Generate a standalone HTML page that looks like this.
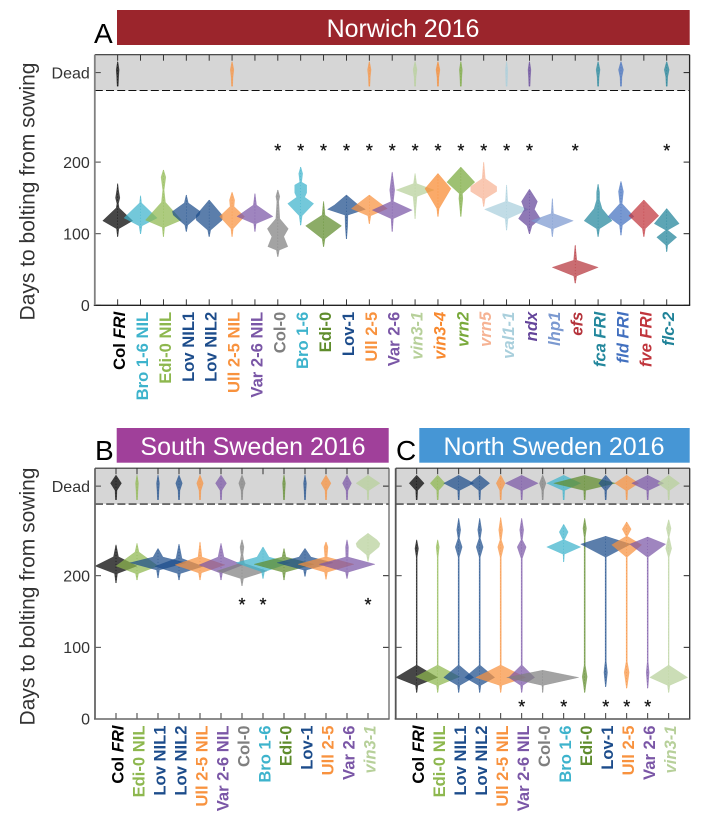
<!DOCTYPE html>
<html lang="en">
<head>
<meta charset="utf-8">
<title>Days to bolting from sowing</title>
<style>
html,body{margin:0;padding:0;background:#fff;width:708px;height:816px;overflow:hidden}
svg{display:block;font-family:"Liberation Sans",sans-serif}
</style>
</head>
<body>
<svg id="chart" width="708" height="816" viewBox="0 0 708 816" xmlns="http://www.w3.org/2000/svg">
  <rect x="117" y="10" width="572.7" height="35" fill="#9b252c"/>
  <text x="403" y="37" font-size="25" fill="#fff" text-anchor="middle">Norwich 2016</text>
  <rect x="116.7" y="428" width="272" height="34.7" fill="#a0409a"/>
  <text x="253" y="455" font-size="25" fill="#fff" text-anchor="middle">South Sweden 2016</text>
  <rect x="419.3" y="428" width="270.4" height="34.7" fill="#4696d5"/>
  <text x="554" y="455" font-size="25" fill="#fff" text-anchor="middle">North Sweden 2016</text>
  <text x="94" y="43" font-size="28">A</text>
  <text x="95" y="460" font-size="28">B</text>
  <text x="396" y="460" font-size="28">C</text>
  <text transform="translate(34.5 191.5) rotate(-90)" font-size="21" fill="#333" text-anchor="middle">Days to bolting from sowing</text>
  <text transform="translate(34.5 596.5) rotate(-90)" font-size="21" fill="#333" text-anchor="middle">Days to bolting from sowing</text>
</svg>
<script>
const categoriesA = ['Col FRI','Bro 1-6 NIL','Edi-0 NIL','Lov NIL1','Lov NIL2','Ull 2-5 NIL','Var 2-6 NIL','Col-0','Bro 1-6','Edi-0','Lov-1','Ull 2-5','Var 2-6','vin3-1','vin3-4','vrn2','vrn5','val1-1','ndx','lhp1','efs','fca FRI','fld FRI','fve FRI','flc-2'];
const deadDensityA = [1.5,0,0,0,0,1.8,0,0,0,0,0,1.8,0,2,2,1.5,0,1.2,1.5,0,0,2,2.5,0,2.5];
const significantA = ['Col-0','Bro 1-6','Edi-0','Lov-1','Ull 2-5','Var 2-6','vin3-1','vin3-4','vrn2','vrn5','val1-1','ndx','efs','flc-2'];
const profilesA = [
  [[96,.3],[107,1.2],[118,15],[136,1.5],[142,.8],[150,2.2],[162,.8],[170,.2]],
  [[100,.3],[111,1.5],[122,16.6],[143,1],[153,.2]],
  [[96,.3],[109,1.2],[119,18],[144,2],[161,.7],[179,2.4],[189,.2]],
  [[103,.3],[112,1.5],[126,13],[131,14],[143,2],[154,.2]],
  [[96,.3],[105,1.5],[119,13],[126,13],[147,.2]],
  [[96,.3],[107,1.2],[124,12.5],[138,2],[147,2.6],[158,.2]],
  [[103,.3],[114,1.2],[124,18],[140,1.6],[156,.2]],
  [[68,.3],[77,1.5],[82,10],[96,6],[107,10.5],[121,2],[145,1],[152,2],[161,.2]],
  [[112,.3],[125,1.5],[142,13],[151,4],[157,6],[168,6],[172,1],[184,2],[193,.2]],
  [[82,.3],[93,1.5],[111,18],[126,1.5],[145,.2]],
  [[93,.3],[110,1.2],[126,1.5],[134,19],[140,12],[154,.2]],
  [[114,.3],[125,1.5],[135,18],[154,.2]],
  [[103,.3],[121,1.2],[133,20],[145,1.2],[161,2.5],[186,.2]],
  [[121,.3],[133,.8],[152,2],[161,19],[170,1.6],[184,.2]],
  [[124,.3],[135,1.2],[163,13],[184,.2]],
  [[124,.3],[138,1.2],[149,2],[156,1.6],[172,14],[193,.2]],
  [[138,.3],[149,1.5],[159,13],[166,13],[177,1.6],[200,.2]],
  [[105,.3],[121,1.5],[134,22],[145,1.2],[168,.2]],
  [[100,.3],[111,2.5],[121,11],[134,5],[145,8],[162,.2]],
  [[96,.3],[107,1.2],[118,21],[128,1.2],[149,.2]],
  [[31,.3],[41,1.5],[53,23],[63,1.6],[84,.2]],
  [[96,.3],[107,1.5],[118,14],[135,4],[147,1.5],[158,1.5],[169,.2]],
  [[98,.3],[112,1.5],[124,13],[142,1.2],[159,2.5],[173,.2]],
  [[96,.3],[107,1.5],[125,15],[147,.2]],
  [[75,.3],[84,1],[95,10],[105,1],[114,12.5],[135,.2]]
];

const categoriesB = ['Col FRI','Edi-0 NIL','Lov NIL1','Lov NIL2','Ull 2-5 NIL','Var 2-6 NIL','Col-0','Bro 1-6','Edi-0','Lov-1','Ull 2-5','Var 2-6','vin3-1'];
const deadDensityB = [5.5,1.5,1.5,3.3,3.3,5.5,3.3,0,1.5,1.5,5,4.5,12];
const significantB = ['Col-0','Bro 1-6','vin3-1'];
const profilesB = [
  [[190,.3],[203,1.5],[213.5,21],[226.5,2.5],[243,.2]],
  [[194,.3],[203,1.5],[213.5,21],[233,2],[245,.2]],
  [[197,.3],[208,1.5],[218,28],[226,5],[238,.2]],
  [[194,.3],[203,1.5],[213,24],[224,3],[244,.2]],
  [[194,.3],[204,1.5],[215,25],[226,2],[247,.2]],
  [[194,.3],[204,1.5],[215,22],[226,3],[245,.2]],
  [[186,.3],[196,1.5],[206.5,25],[217,2.5],[229,1],[240,2],[250,.2]],
  [[196,.3],[205.5,1.5],[218,27],[226,6],[240,.2]],
  [[194,.3],[205,1.5],[216,30],[226,2],[238,.2]],
  [[199,.3],[208,1.5],[218,28],[226,6],[238,.2]],
  [[195,.3],[205,1.5],[216,28],[226,1.2],[240,2],[247,.2]],
  [[196,.3],[205,1.5],[216,28],[226,1.2],[240,1.5],[250,.2]],
  [[220,.3],[229,1.5],[240,11],[245,12],[250,9],[259,.2]]
];

const categoriesC = ['Col FRI','Edi-0 NIL','Lov NIL1','Lov NIL2','Ull 2-5 NIL','Var 2-6 NIL','Col-0','Bro 1-6','Edi-0','Lov-1','Ull 2-5','Var 2-6','vin3-1'];
const deadDensityC = [7.5,7.5,15,10,4.5,16.5,3.3,17,31,7,12,16,11];
const significantC = ['Var 2-6 NIL','Bro 1-6','Lov-1','Ull 2-5','Var 2-6'];
const profilesC = [
  [[37,.3],[47,1.2],[58,21],[75,.5],[226,.5],[238,1.8],[250,.2]],
  [[37,.3],[47,1.2],[59,22],[75,.5],[226,.5],[240,1.6],[250,.2]],
  [[37,.3],[47,1.2],[58,15],[75,.6],[226,.6],[240,3.5],[252,.7],[264,2],[280,.2]],
  [[37,.3],[47,1.2],[58,15],[75,.6],[226,.6],[240,3.5],[252,.7],[264,2],[280,.2]],
  [[37,.3],[47,1.2],[58,25],[75,.6],[226,.6],[240,3],[250,.7],[264,2],[281,.2]],
  [[37,.3],[47,1.2],[58,13],[75,.6],[224,.6],[240,4.5],[250,.7],[264,2],[280,.2]],
  [[37,.3],[47,.8],[58,36],[68,.3]],
  [[219.5,.3],[230,.7],[240,17],[250,.7],[261,4.5],[271.6,.2]],
  [[37,.3],[47,1.2],[59,2.5],[75,.6],[254,.6],[266,1.8],[280,.2]],
  [[45,.3],[65,1.8],[80,.6],[226,.6],[244,25],[255,.2]],
  [[43,.3],[65,2.5],[80,.6],[226,.6],[243,15],[255,.7],[265,4.5],[275,.2]],
  [[43,.3],[65,1.5],[80,.5],[226,.6],[244,18],[254,.2]],
  [[37,.3],[47,1.2],[58,19],[75,.4],[226,.5],[238,3],[254,.5],[266,2.4],[278,.2]]
];

const yTickValues = [0,100,200];
const deadDay = 325;
const deadThreshold = 300;
const yMax = 350;
const deadBottomDays = [306,319];
const deadBottomDensity = [.6,1];
const deadPeakDay = 329;
const deadTopDay = 340;
const sigDayA = 219.5;
const sigDayB = 163;
const sigDayC = 21;

const genotypeColors = {
  'Col FRI':'#000000','Bro 1-6 NIL':'#3db3cc','Edi-0 NIL':'#8db74e','Lov NIL1':'#1c4c8b','Lov NIL2':'#1c4c8b',
  'Ull 2-5 NIL':'#f8923e','Var 2-6 NIL':'#7a56a6','Col-0':'#7f7f7f','Bro 1-6':'#3db3cc','Edi-0':'#5f8c2c',
  'Lov-1':'#1c4c8b','Ull 2-5':'#f8923e','Var 2-6':'#7a56a6','vin3-1':'#b7d09a','vin3-4':'#f8892f','vrn2':'#79a93b',
  'vrn5':'#f6b394','val1-1':'#a9cfdc','ndx':'#64459a','lhp1':'#7b99d0','efs':'#b5343c','fca FRI':'#23879c',
  'fld FRI':'#4270bf','fve FRI':'#c0353c','flc-2':'#1f8298'
};
const italicLabels = ['vin3-1','vin3-4','vrn2','vrn5','val1-1','ndx','lhp1','efs','fca FRI','fld FRI','fve FRI','flc-2'];

const svg = document.getElementById('chart');
const NS = 'http://www.w3.org/2000/svg';

function mk(tag, attrs, parent) {
  const el = document.createElementNS(NS, tag);
  for (const k in attrs) el.setAttribute(k, attrs[k]);
  parent.appendChild(el);
  return el;
}
function slug(s) { return s.toLowerCase().replace(/[^a-z0-9]+/g, '-'); }

function drawPanel(p) {
  const n = p.categories.length;
  const x = i => p.left + (i + 1) * (p.right - p.left) / (n + 1);
  const y = d => p.bottom - d * (p.bottom - p.top) / yMax;
  const w = d => d;

  const g = mk('g', {}, svg);
  
  

  const dead = mk('rect', {x: p.left, y: p.top, width: p.right - p.left, height: y(deadThreshold) - p.top, fill: '#d6d6d6'}, g);
  
  

  function violin(points, cx, color, name) {
    const right = points.map(q => (cx + w(q[1])) + ',' + y(q[0]));
    const left = points.slice().reverse().map(q => (cx - w(q[1])) + ',' + y(q[0]));
    const shape = mk('polygon', {points: right.concat(left).join(' '), fill: color, 'fill-opacity': .72, stroke: color, 'stroke-opacity': .75, 'stroke-width': .3}, g);
    
    
    const core = mk('line', {x1: cx, x2: cx, y1: y(points[0][0]), y2: y(points[points.length - 1][0]), stroke: color, 'stroke-opacity': .9, 'stroke-width': .6, 'stroke-dasharray': '1 2'}, g);
    
    
  }

  p.categories.forEach((c, i) => {
    if (p.dead[i] > 0) {
      const pts = [[deadBottomDays[0], deadBottomDensity[0]], [deadBottomDays[1], deadBottomDensity[1]], [deadPeakDay, p.dead[i]], [deadTopDay, .3]];
      violin(pts, x(i), genotypeColors[c], 'dead-violin-' + slug(c));
    }
  });
  p.categories.forEach((c, i) => {
    violin(p.profiles[i], x(i), genotypeColors[c], 'violin-' + slug(c));
  });

  const dash = mk('line', {x1: p.left, x2: p.right, y1: y(deadThreshold), y2: y(deadThreshold), stroke: '#111', 'stroke-width': 1.1, 'stroke-dasharray': '8 3.2'}, g);
  
  

  p.categories.forEach((c, i) => {
    const t1 = mk('line', {x1: x(i), x2: x(i), y1: p.bottom, y2: p.bottom - 6, stroke: '#222', 'stroke-width': .9}, g);
    
    
    const t2 = mk('line', {x1: x(i), x2: x(i), y1: p.top, y2: p.top + 6, stroke: '#222', 'stroke-width': .9}, g);
    
    

    const lx = x(i), ly = p.bottom + 6.5;
    const label = mk('text', {transform: 'translate(' + (lx + 7.5) + ' ' + ly + ') rotate(-90)', 'text-anchor': 'end', 'font-size': 16.6, 'font-weight': 'bold', fill: genotypeColors[c]}, g);
    
    
    if (c === 'Col FRI') {
      const a = mk('tspan', {}, label);
      a.textContent = 'Col ';
      const b = mk('tspan', {'font-style': 'italic'}, label);
      b.textContent = 'FRI';
    } else {
      label.textContent = c;
      if (italicLabels.includes(c)) label.setAttribute('font-style', 'italic');
    }

    if (p.significant.includes(c)) {
      const star = mk('text', {x: lx, y: y(p.sigDay) + 9, 'text-anchor': 'middle', 'font-size': 18, fill: '#111', stroke: '#111', 'stroke-width': .25}, g);
      
      
      star.textContent = '*';
    }
  });

  const ticks = yTickValues.concat([deadDay]);
  ticks.forEach(v => {
    const tl = mk('line', {x1: p.left, x2: p.left + 6, y1: y(v), y2: y(v), stroke: '#444', 'stroke-width': 1}, g);
    
    
    const tr = mk('line', {x1: p.right, x2: p.right - 6, y1: y(v), y2: y(v), stroke: '#222', 'stroke-width': 1}, g);
    
    
    if (p.yLabels) {
      const lab = mk('text', {x: p.left - 5, y: y(v) + 5.7, 'text-anchor': 'end', 'font-size': 16, fill: '#333'}, g);
      
      
      lab.textContent = v === deadDay ? 'Dead' : String(v);
    }
  });

  const frameTop = mk('line', {x1: p.left, x2: p.right, y1: p.top, y2: p.top, stroke: '#333', 'stroke-width': 1.2}, g);
  
  
  const frameRight = mk('line', {x1: p.right, x2: p.right, y1: p.top, y2: p.bottom, stroke: p.rightStroke, 'stroke-width': 1.3}, g);
  
  
  const frameBottom = mk('line', {x1: p.left - 1, x2: p.right + .6, y1: p.bottom, y2: p.bottom, stroke: p.bottomStroke, 'stroke-width': 1.4}, g);
  
  
  const frameLeft = mk('line', {x1: p.left, x2: p.left, y1: p.top, y2: p.bottom, stroke: p.leftStroke, 'stroke-width': 1.8}, g);
  
  
}

drawPanel({id: 'norwich', left: 94.8, right: 689.6, top: 54.7, bottom: 305.3, categories: categoriesA, profiles: profilesA, dead: deadDensityA, significant: significantA, sigDay: sigDayA, yLabels: true, leftStroke: '#808080', bottomStroke: '#222', rightStroke: '#222'});
drawPanel({id: 'south-sweden', left: 95, right: 389, top: 468.2, bottom: 719, categories: categoriesB, profiles: profilesB, dead: deadDensityB, significant: significantB, sigDay: sigDayB, yLabels: true, leftStroke: '#666', bottomStroke: '#666', rightStroke: '#666'});
drawPanel({id: 'north-sweden', left: 395.7, right: 689.7, top: 468.2, bottom: 719, categories: categoriesC, profiles: profilesC, dead: deadDensityC, significant: significantC, sigDay: sigDayC, yLabels: false, leftStroke: '#555', bottomStroke: '#555', rightStroke: '#333'});
</script>
</body>
</html>
